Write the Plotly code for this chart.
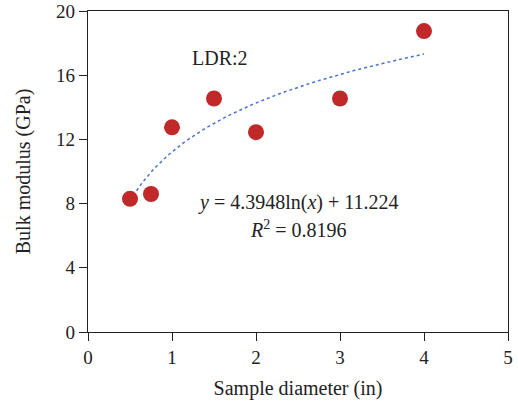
import numpy as np
import plotly.graph_objects as go

diameter = [0.5, 0.75, 1.0, 1.5, 2.0, 3.0, 4.0]
bulk_modulus = [8.3, 8.6, 12.75, 14.55, 12.45, 14.55, 18.75]
fit_a = 4.3948
fit_b = 11.224
x_ticks = [0, 1, 2, 3, 4, 5]
y_ticks = [0, 4, 8, 12, 16, 20]

xf = np.linspace(min(diameter), max(diameter), 120)
yf = fit_a * np.log(xf) + fit_b

FONT = "Liberation Serif"
TXT = "#222"
fig = go.Figure()
fig.add_trace(go.Scatter(x=xf, y=yf, mode="lines",
                         line=dict(color="#4a72c8", width=1.5, dash="dot"),
                         hoverinfo="skip", showlegend=False))
fig.add_trace(go.Scatter(x=diameter, y=bulk_modulus, mode="markers",
                         marker=dict(color="#c0282a", size=16, line=dict(width=0)),
                         showlegend=False))

fig.add_annotation(x=1.57, y=17.1, text="LDR:2", showarrow=False,
                   font=dict(family=FONT, size=20, color=TXT))
fig.add_annotation(x=2.5, y=8.1, text="<i>y</i> = 4.3948ln(<i>x</i>) + 11.224", showarrow=False,
                   font=dict(family=FONT, size=20, color=TXT))
fig.add_annotation(x=2.5, y=6.4, text="<i>R</i><sup>2</sup> = 0.8196", showarrow=False,
                   font=dict(family=FONT, size=20, color=TXT))

axis_common = dict(showgrid=False, zeroline=False, showline=True, linecolor=TXT,
                   linewidth=1.3, mirror=True, ticks="outside", ticklen=8,
                   tickcolor=TXT, tickwidth=1.3, automargin=False,
                   ticklabeloverflow="allow",
                   tickfont=dict(family=FONT, size=19, color=TXT))
fig.update_xaxes(range=[0, 5], tickvals=x_ticks,
                 title=dict(text="Sample diameter (in)", font=dict(family=FONT, size=20, color=TXT), standoff=14),
                 **axis_common)
fig.update_yaxes(range=[0, 20], tickvals=y_ticks,
                 title=dict(text="Bulk modulus (GPa)", font=dict(family=FONT, size=20, color=TXT), standoff=20),
                 **axis_common)
fig.update_layout(width=518, height=408, margin=dict(l=88, r=10, t=11, b=76),
                  plot_bgcolor="white", paper_bgcolor="white")
fig.write_html("out.html", config={"displayModeBar": False},
               post_script="document.body.style.margin='0';document.body.style.padding='0';")
